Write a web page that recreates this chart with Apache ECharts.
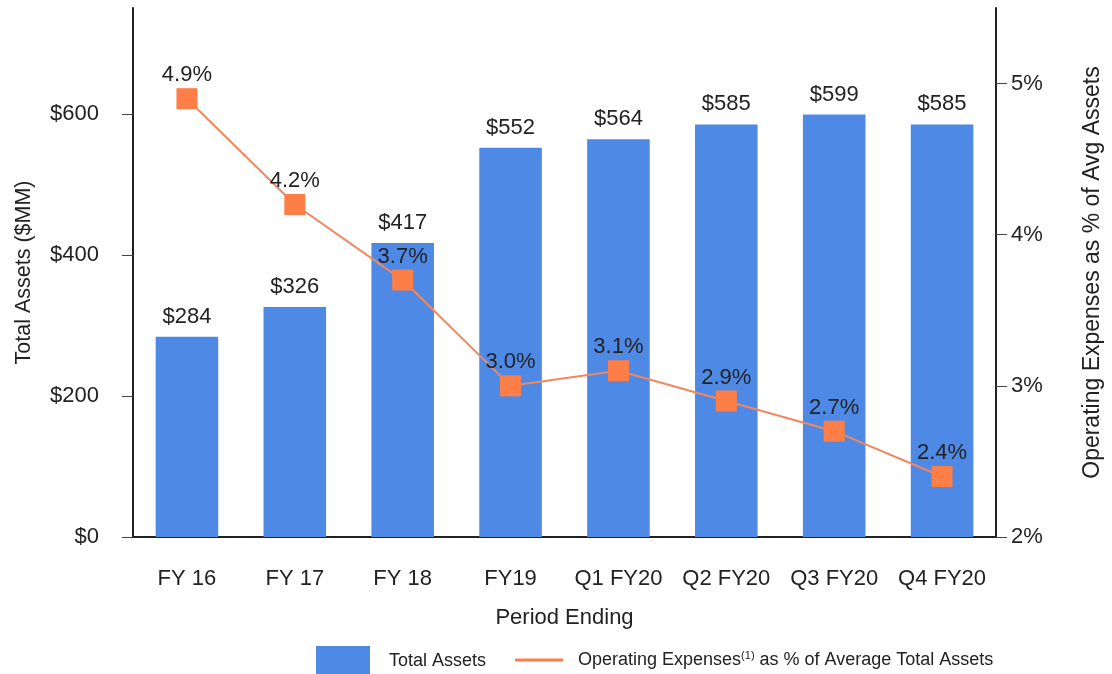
<!DOCTYPE html>
<html>
<head>
<meta charset="utf-8">
<script src="https://cdn.jsdelivr.net/npm/echarts@6/dist/echarts.min.js"></script>
<style>
html,body{margin:0;padding:0;background:#fff;}
#chart{width:1112px;height:674px;}
</style>
</head>
<body>
<div id="chart"></div>
<script>
var categories = ['FY 16','FY 17','FY 18','FY19','Q1 FY20','Q2 FY20','Q3 FY20','Q4 FY20'];
var totalAssets = [284, 326, 417, 552, 564, 585, 599, 585];
var opexPct = [4.9, 4.2, 3.7, 3.0, 3.1, 2.9, 2.7, 2.4];
var leftTicks = [0, 200, 400, 600];
var rightTicks = [2, 3, 4, 5];

var FONT = '"Liberation Sans", Arial, sans-serif';
var TXT = '#222';
var chart = echarts.init(document.getElementById('chart'), null, {renderer:'canvas'});
chart.setOption({
  animation: false,
  backgroundColor: '#fff',
  textStyle: {fontFamily: FONT, color: TXT},
  grid: {left: 133, right: 115, top: 8, bottom: 137, containLabel: false},
  legend: [{
    left: 311, top: 641, itemWidth: 54, itemHeight: 30, icon: 'rect',
    data: ['Total Assets'],
    textStyle: {fontFamily: FONT, fontSize: 18, color: TXT, padding: [0,0,0,14]}
  },{
    left: 510, top: 645, itemWidth: 48, itemHeight: 3, icon: 'rect',
    data: [{name: 'opex', icon: 'rect'}],
    formatter: function(){ return 'Operating Expenses{sup|(1)} as % of Average Total Assets'; },
    textStyle: {fontFamily: FONT, fontSize: 18, color: TXT, padding: [0,0,0,10],
      rich: {sup: {fontFamily: FONT, fontSize: 11, color: TXT, padding: [0,0,9,0]}}}
  }],
  xAxis: {
    type: 'category', data: categories,
    name: 'Period Ending', nameLocation: 'middle', nameGap: 70,
    nameTextStyle: {fontFamily: FONT, fontSize: 22, color: TXT},
    axisLine: {lineStyle: {color: TXT, width: 2}},
    axisTick: {alignWithLabel: true, length: 11, lineStyle: {color: '#444'}},
    axisLabel: {interval: 0, fontFamily: FONT, fontSize: 22, color: TXT, margin: 31}
  },
  yAxis: [{
    type: 'value', min: 0, max: 750, interval: 200,
    name: 'Total Assets ($MM)', nameLocation: 'middle', nameGap: 98,
    nameTextStyle: {fontFamily: FONT, fontSize: 21.5, color: TXT},
    axisLine: {show: true, lineStyle: {color: TXT, width: 2}},
    axisTick: {show: true, length: 11, customValues: leftTicks, lineStyle: {color: '#444'}},
    axisLabel: {fontFamily: FONT, fontSize: 22, color: TXT, margin: 34, customValues: leftTicks,
      formatter: function(v){ return '$' + v; }},
    splitLine: {show: false}
  },{
    type: 'value', min: 2, max: 5.5, interval: 1, position: 'right',
    name: 'Operating Expenses as % of Avg Assets', nameLocation: 'middle', nameGap: 85,
    nameTextStyle: {fontFamily: FONT, fontSize: 23, color: TXT},
    axisLine: {show: true, lineStyle: {color: TXT, width: 2}},
    axisTick: {show: true, length: 11, customValues: rightTicks, lineStyle: {color: '#444'}},
    axisLabel: {fontFamily: FONT, fontSize: 22, color: TXT, margin: 15, customValues: rightTicks,
      formatter: function(v){ return v + '%'; }},
    splitLine: {show: false}
  }],
  series: [{
    name: 'Total Assets', type: 'bar', data: totalAssets, barWidth: '58%',
    itemStyle: {color: '#4f89e6'},
    label: {show: true, position: 'top', distance: 9, fontFamily: FONT, fontSize: 22, color: TXT,
      formatter: function(p){ return '$' + p.value; }}
  },{
    name: 'opex', type: 'line', yAxisIndex: 1, data: opexPct,
    symbol: 'rect', symbolSize: 21,
    lineStyle: {color: '#f0875f', width: 2},
    itemStyle: {color: '#fd7f47'},
    label: {show: true, position: 'top', distance: 2, fontFamily: FONT, fontSize: 22, color: TXT,
      formatter: function(p){ return p.value.toFixed(1) + '%'; }},
    z: 5
  }]
});
</script>
</body>
</html>
